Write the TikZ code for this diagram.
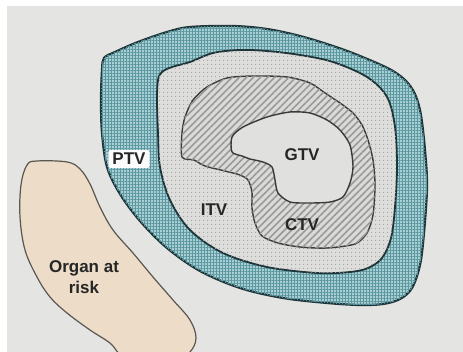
\documentclass[tikz,border=0pt]{standalone}
\usepackage{fontspec}
\setmainfont{Liberation Sans}
\usetikzlibrary{patterns.meta}
\definecolor{bgc}{HTML}{E4E4E2}
\definecolor{ptvbase}{HTML}{A9CED4}
\definecolor{ptvdark}{HTML}{5A979F}
\definecolor{ptvline}{HTML}{1E3438}
\definecolor{itvbase}{HTML}{DDDDDB}
\definecolor{itvdot}{HTML}{A2A2A2}
\definecolor{ctvbase}{HTML}{DADAD8}
\definecolor{ctvline}{HTML}{9A9A9A}
\definecolor{gtvbase}{HTML}{E0E0DE}
\definecolor{organ}{HTML}{ECDCC8}
\definecolor{organline}{HTML}{5A5650}
\definecolor{outl}{HTML}{3A3A3A}
\tikzset{
  lbl/.style={font=\bfseries\fontsize{17}{20}\selectfont, text=black!85, inner sep=1pt},
  ptvfill/.style={draw=ptvline, line width=2.2pt, fill=ptvbase,
    postaction={pattern={Hatch[distance=3pt, angle=0, line width=0.7pt]}, pattern color=ptvdark}},
  itvfill/.style={draw=ptvline, line width=1.8pt, fill=itvbase,
    postaction={pattern={Dots[distance=4pt, radius=0.7pt]}, pattern color=itvdot}},
  ctvfill/.style={draw=outl, line width=1.4pt, fill=ctvbase,
    postaction={pattern={Lines[angle=45, distance=5pt, line width=1.6pt]}, pattern color=ctvline}},
  gtvfill/.style={draw=outl, line width=1.4pt, fill=gtvbase},
  orgfill/.style={draw=organline, line width=1.2pt, fill=organ}
}
\begin{document}
\begin{tikzpicture}[x=1pt, y=-1pt]
\useasboundingbox (0,0) rectangle (463,352);
\fill[white] (0,0) rectangle (463,352);
\fill[bgc] (7,6) rectangle (463,352);
\begin{scope}
\clip (0,0) rectangle (463,352);
% organ at risk
\draw[orgfill] plot[smooth cycle, tension=0.6] coordinates {
 (27,165)(37,161)(67,162)(80,169)(90,184)(100,207)(113,230)(133,253)(153,277)
 (173,300)(190,320)(196,338)(190,352)(175,362)(127,358)(110,343)(90,330)
 (67,313)(50,297)(37,277)(25,250)(20,217)(21,185)};
% PTV
\draw[ptvfill] plot[smooth cycle, tension=0.55] coordinates {
 (102,70)(104,58)(115,52)(138,42)(167,32)(190,27)(233,26)(267,29)(300,36)(333,46)
 (360,56)(393,71)(411,87)(420,110)(425,150)(427,187)(424,233)(420,265)(412,288)
 (400,299)(383,304)(360,305)(327,303)(283,298)(240,288)(200,271)(167,248)
 (140,221)(120,194)(107,167)(102,133)(101,100)};
% ITV
\draw[itvfill] plot[smooth cycle, tension=0.55] coordinates {
 (158,80)(162,72)(172,67)(190,62)(213,53)(240,50)(267,51)(300,55)(333,62)
 (367,77)(387,97)(395,127)(397,167)(395,207)(391,238)(382,258)(368,268)
 (350,272)(317,273)(267,267)(223,253)(190,230)(170,200)(160,167)(158,133)(157,100)};
% CTV
\draw[ctvfill] plot[smooth cycle, tension=0.45] coordinates {
 (182,157)(182,133)(185,117)(193,100)(207,87)(227,78)(253,76)(287,77)(310,83)
 (325,93)(340,103)(353,113)(362,125)(368,140)(373,160)(375,185)(373,215)
 (367,233)(355,244)(327,248)(300,247)(278,243)(262,236)(255,223)(252,208)
 (252,192)(248,180)(240,175)(225,171)(205,166)(194,160)};
% GTV
\draw[gtvfill] plot[smooth cycle, tension=0.45] coordinates {
 (232,152)(232,137)(243,127)(267,117)(290,112)(310,113)(327,120)(340,130)
 (350,145)(353,167)(350,183)(343,197)(330,202)(310,203)(290,202)(278,193)
 (275,180)(272,167)(263,162)(250,159)(242,156)};
\end{scope}
% labels
\node[lbl, fill=white!85!bgc, rounded corners=2pt, inner xsep=4pt, inner ysep=3pt] (ptv) at (129,159) {PTV};
\node[lbl] (gtv) at (302,155) {GTV};
\node[lbl] (itv) at (214,210) {ITV};
\node[lbl] (ctv) at (302,225) {CTV};
\node[lbl, align=center, font=\bfseries\fontsize{17}{21}\selectfont] (oar) at (84,277) {Organ at\\risk};
\end{tikzpicture}
\end{document}
